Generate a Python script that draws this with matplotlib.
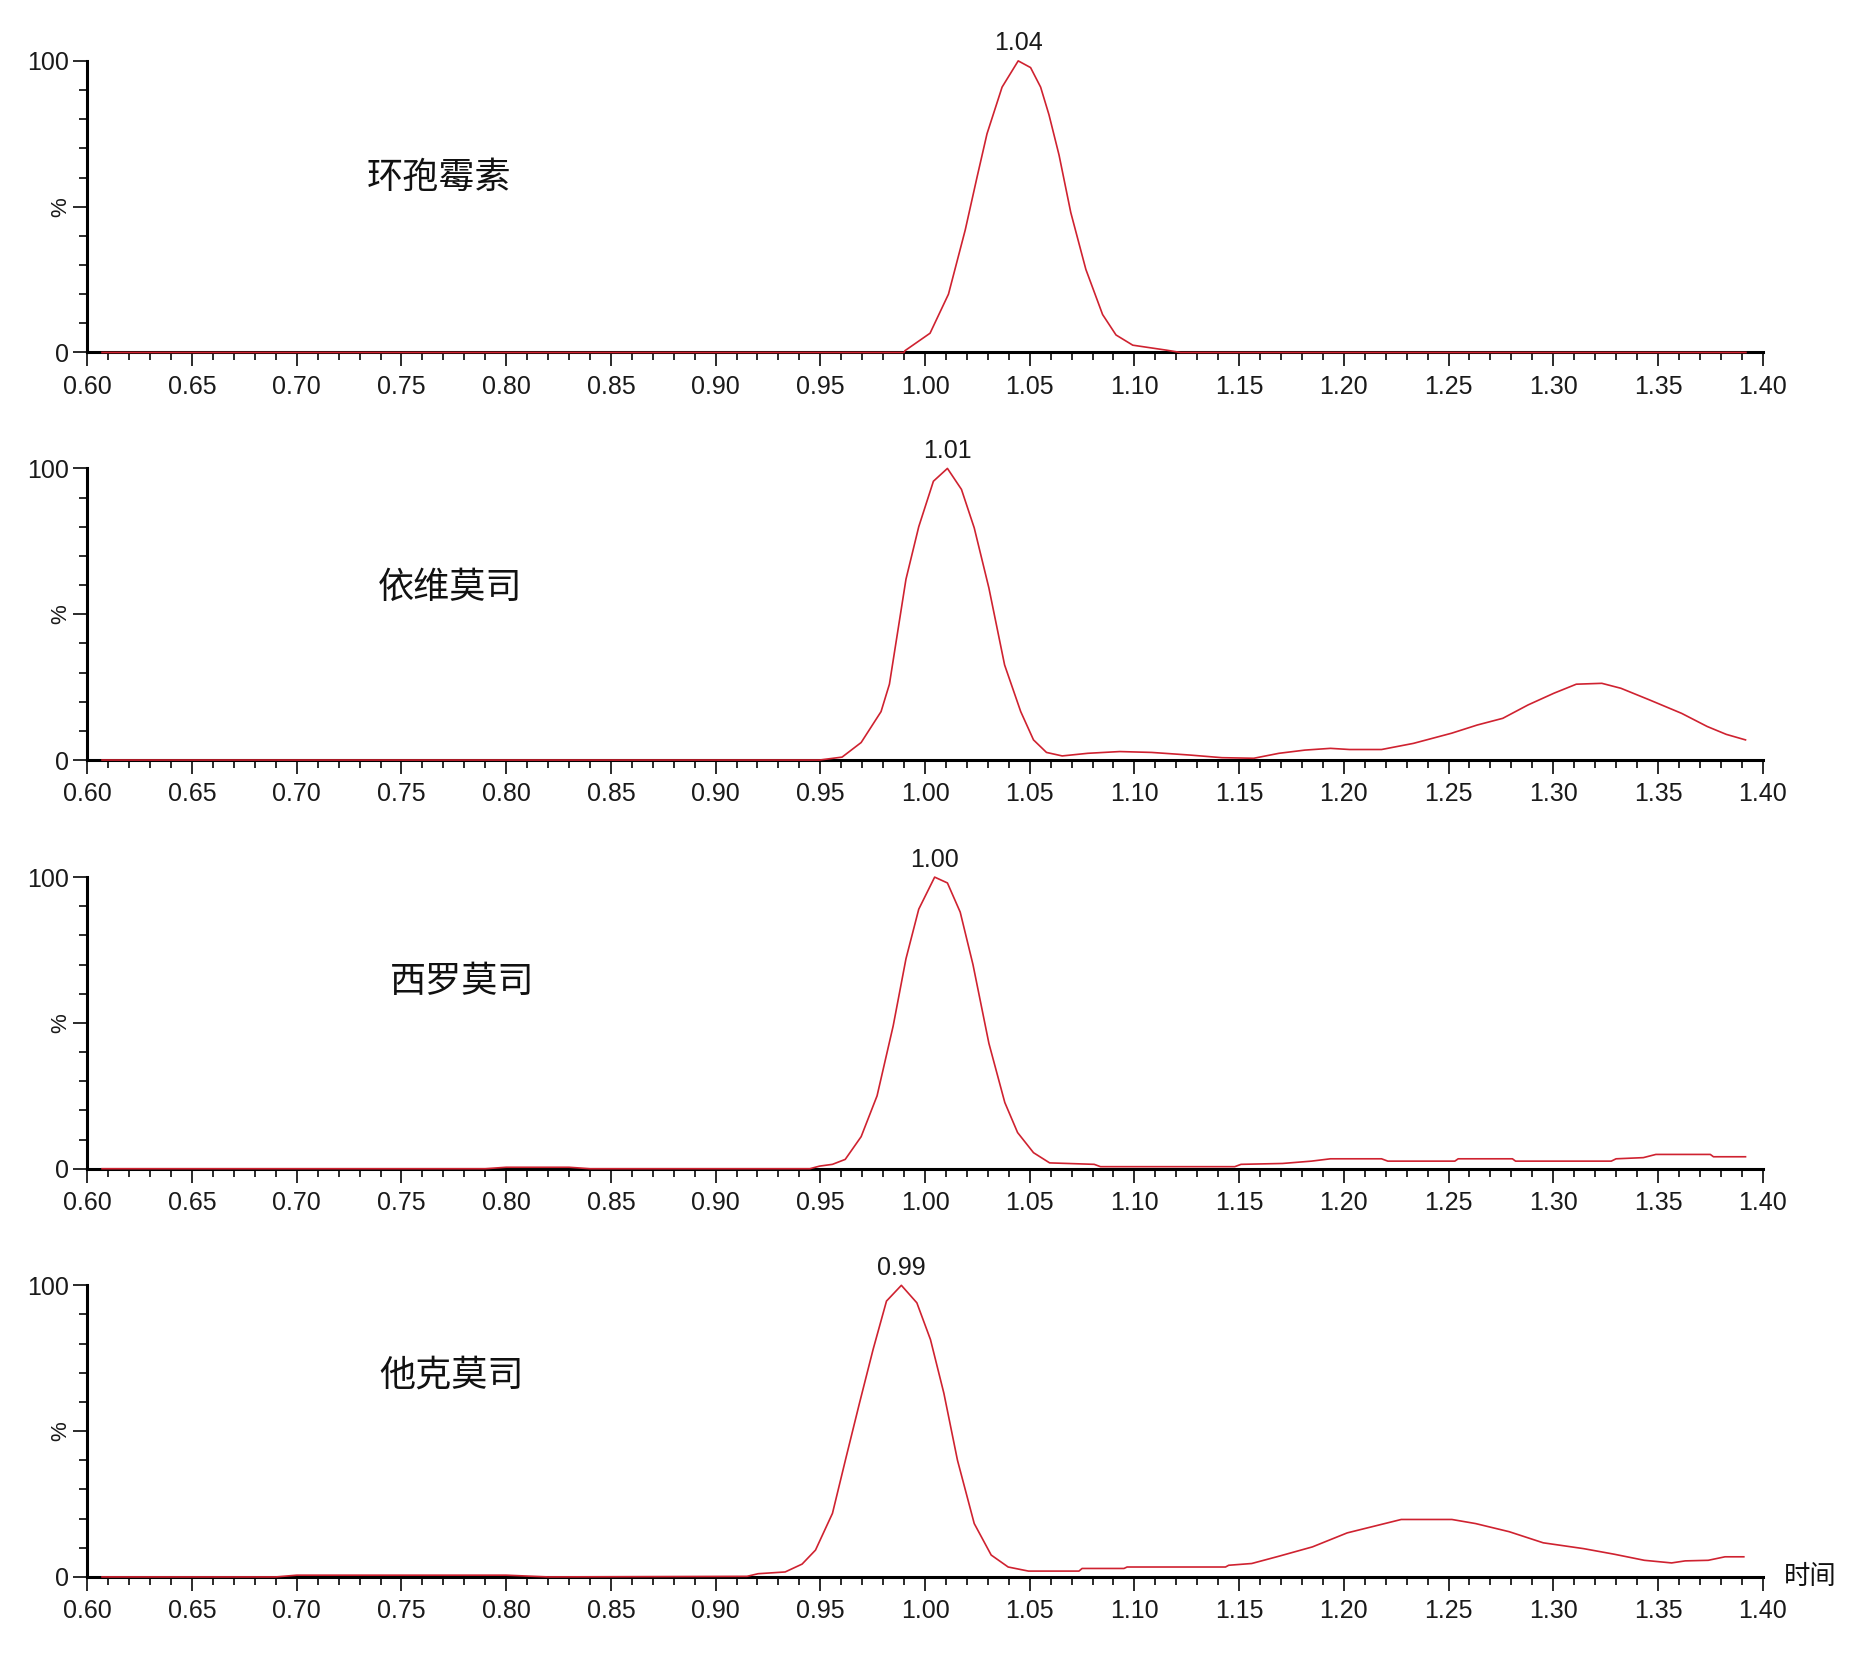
import matplotlib.pyplot as plt
from matplotlib.ticker import MultipleLocator, FixedLocator

# chromatogram traces (time in min, intensity in %)
names = ["环孢霉素", "依维莫司", "西罗莫司", "他克莫司"]
peak_rt = ["1.04", "1.01", "1.00", "0.99"]
peak_x = [1.0445, 1.0107, 1.0046, 0.9887]

t1 = [0.607, 0.990, 0.9904, 1.0024, 1.0112, 1.0192, 1.0248, 1.0296, 1.0368, 1.0445,
      1.0504, 1.0552, 1.0592, 1.064, 1.0696, 1.0768, 1.0848, 1.0912, 1.0992, 1.1152,
      1.122, 1.392]
y1 = [0, 0, 0.6, 6.6, 20, 42, 60, 75, 91, 100,
      97.7, 91, 81.5, 67.7, 48, 28.5, 13, 6, 2.5, 0.8,
      0, 0]

t2 = [0.607, 0.9497, 0.9604, 0.9695, 0.979, 0.983, 0.9909, 0.997, 1.004, 1.0107,
      1.0174, 1.0235, 1.0305, 1.038, 1.0457, 1.0518, 1.058, 1.0655, 1.0777, 1.093,
      1.1082, 1.1265, 1.1418, 1.157, 1.169, 1.1814, 1.1936, 1.2027, 1.218, 1.2332,
      1.2515, 1.2637, 1.2759, 1.288, 1.3003, 1.311, 1.3232, 1.3323, 1.346, 1.3613,
      1.3735, 1.3826, 1.3918]
y2 = [0, 0, 1, 6, 16.6, 26, 62, 80, 95.6, 100,
      92.8, 79.6, 59, 32.6, 16.6, 6.9, 2.6, 1.4, 2.3, 2.9,
      2.6, 1.7, 0.8, 0.6, 2.3, 3.4, 4, 3.6, 3.6, 5.7,
      9.2, 12, 14.3, 18.9, 22.9, 26, 26.3, 24.6, 20.6, 16,
      11.5, 8.8, 6.9]

t3 = [0.607, 0.79, 0.80, 0.83, 0.84, 0.945, 0.9497, 0.9558, 0.9619, 0.9695,
      0.9771, 0.9848, 0.9909, 0.997, 1.0046, 1.0107, 1.0168, 1.0229, 1.0305, 1.0381,
      1.0442, 1.0518, 1.0595, 1.0808, 1.0838, 1.1479, 1.1509, 1.1707, 1.1845, 1.1936,
      1.218, 1.221, 1.253, 1.2546, 1.2805, 1.282, 1.3277, 1.33, 1.343, 1.349,
      1.375, 1.3765, 1.3918]
y3 = [0, 0, 0.5, 0.5, 0, 0, 0.9, 1.5, 3.2, 11,
      25, 49, 72, 89, 100, 98, 88, 70, 43, 22.7,
      12.4, 5.5, 2, 1.5, 0.7, 0.7, 1.5, 1.8, 2.6, 3.4,
      3.4, 2.6, 2.6, 3.4, 3.4, 2.6, 2.6, 3.4, 3.8, 4.9,
      4.9, 4.1, 4.1]

t4 = [0.607, 0.69, 0.70, 0.80, 0.82, 0.915, 0.9203, 0.9332, 0.9413, 0.9477,
      0.9558, 0.9623, 0.9687, 0.9752, 0.9816, 0.9887, 0.9961, 1.0026, 1.009, 1.0155,
      1.0235, 1.0316, 1.0397, 1.0494, 1.0735, 1.075, 1.095, 1.0965, 1.1435, 1.145,
      1.156, 1.169, 1.185, 1.2016, 1.2145, 1.2274, 1.2516, 1.2629, 1.279, 1.2952,
      1.3145, 1.329, 1.3435, 1.3565, 1.363, 1.374, 1.382, 1.391]
y4 = [0, 0, 0.6, 0.6, 0, 0.2, 1.1, 1.7, 4.4, 9.2,
      21.8, 41, 59.6, 78, 94.6, 100, 94, 81.4, 63, 40,
      18.3, 7.5, 3.4, 2, 2, 2.9, 2.9, 3.4, 3.4, 4,
      4.6, 7.1, 10.3, 15.1, 17.4, 19.7, 19.7, 18.3, 15.5, 11.7,
      9.7, 7.8, 5.7, 4.8, 5.5, 5.7, 6.9, 6.9]

traces = [(t1, y1), (t2, y2), (t3, y3), (t4, y4)]
label_pos = [(0.768, 60), (0.773, 59), (0.779, 64), (0.774, 69)]
bottoms = [0.7869, 0.5405, 0.2934, 0.0466]

plt.rcParams['font.family'] = ['Liberation Sans', 'DejaVu Sans']
cjk = ['Noto Sans CJK SC', 'DejaVu Sans']
red = '#cf2230'

fig = plt.figure(figsize=(18.71, 16.54), dpi=100)

for i, (t, y) in enumerate(traces):
    ax = fig.add_axes([0.0467, bottoms[i], 0.8954, 0.1763])
    ax.plot(t, y, color=red, lw=1.2, clip_on=False, zorder=3)
    ax.set_xlim(0.60, 1.40)
    ax.set_ylim(0, 100)
    for s in ['top', 'right']:
        ax.spines[s].set_visible(False)
    for s in ['left', 'bottom']:
        ax.spines[s].set_linewidth(2.2)
    ax.xaxis.set_major_locator(MultipleLocator(0.05))
    ax.xaxis.set_minor_locator(MultipleLocator(0.01))
    ax.set_xticklabels([f"{v:.2f}" for v in ax.get_xticks()])
    ax.yaxis.set_major_locator(FixedLocator([0, 50, 100]))
    ax.yaxis.set_minor_locator(MultipleLocator(10))
    ax.set_yticklabels(['0', '', '100'])
    ax.tick_params(axis='both', which='major', length=10, width=1.3,
                   labelsize=18, colors='#1a1a1a', pad=3)
    ax.tick_params(axis='both', which='minor', length=6, width=1.3, colors='#1a1a1a')
    ax.tick_params(axis='x', pad=6)
    ax.text(-0.016, 0.5, '%', transform=ax.transAxes, rotation=90,
            ha='center', va='center', fontsize=16, color='#1a1a1a')
    ax.annotate(peak_rt[i], (peak_x[i], 100), xytext=(0, 4),
                textcoords='offset points', ha='center', va='bottom',
                fontsize=18, color='#1a1a1a', annotation_clip=False)
    lx, ly = label_pos[i]
    ax.text(lx, ly, names[i], ha='center', va='center', fontsize=26,
            family=cjk, color='#111')
    if i == 3:
        ax.text(1.41, 0, '时间', ha='left', va='center', fontsize=19,
                family=cjk, color='#111', clip_on=False)

fig.savefig('out.png', dpi=100)
